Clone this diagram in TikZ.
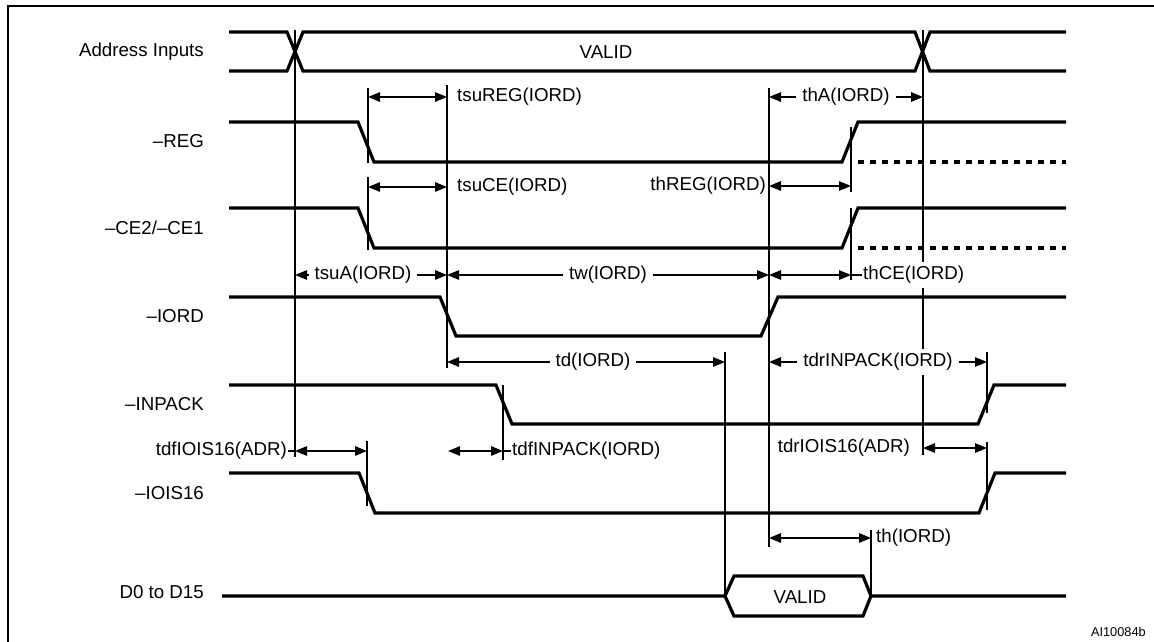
\documentclass[tikz,border=0pt]{standalone}
\usepackage{fontspec}
\setmainfont{Liberation Sans}
\usetikzlibrary{arrows.meta}
\definecolor{ink}{HTML}{000000}
\tikzset{
  sig/.style={draw=ink, line width=3.2pt, line join=miter},
  floatsig/.style={draw=ink, line width=3.2pt, dash pattern=on 6pt off 6pt},
  tick/.style={draw=ink, line width=1.3pt},
  dim/.style={draw=ink, line width=1.3pt, {Triangle[length=12pt,width=9.5pt]}-{Triangle[length=12pt,width=9.5pt]}},
  lab/.style={text=ink, font=\fontsize{18.7}{22}\selectfont, inner sep=1pt},
  labw/.style={lab, fill=white, inner xsep=6pt, inner ysep=4pt},
  signame/.style={lab, anchor=east},
}

\begin{document}
\begin{tikzpicture}[x=1pt,y=-1pt]
  \useasboundingbox (0,0) rectangle (1154,641);
  % frame
  \draw[line width=2pt] (8,660) -- (8,6) -- (1170,6);
  % signal names
  \node[signame] (nAddr) at (205,52) {Address Inputs};
  \node[signame] (nREG) at (205,141) {–REG};
  \node[signame] (nCE) at (205,228) {–CE2/–CE1};
  \node[signame] (nIORD) at (205,316) {–IORD};
  \node[signame] (nINPACK) at (205,404) {–INPACK};
  \node[signame] (nIOIS) at (205,493) {–IOIS16};
  \node[signame] (nData) at (205,592) {D0 to D15};
  % timing marks
  \draw[tick] (295,30) -- (295,457);
  \draw[tick] (368,88) -- (368,163);
  \draw[tick] (368,177) -- (368,250);
  \draw[tick] (447,85) -- (447,368);
  \draw[tick] (503,385) -- (503,460);
  \draw[tick] (367,441) -- (367,506);
  \draw[tick] (725,352) -- (725,596);
  \draw[tick] (769,88) -- (769,547);
  \draw[tick] (851,127) -- (851,192);
  \draw[tick] (851,208) -- (851,280);
  \draw[tick] (923,30) -- (923,455);
  \draw[tick] (987,352) -- (987,413);
  \draw[tick] (987,442) -- (987,510);
  \draw[tick] (871,530) -- (871,596);
  % signals
  \draw[sig] (229,32) -- (287,32) -- (303,71) -- (915,71) -- (930,32) -- (1066,32);
  \draw[sig] (229,71) -- (287,71) -- (303,32) -- (915,32) -- (930,71) -- (1066,71);
  \node[lab] (vAddr) at (606,52) {VALID};
  \draw[sig] (229,122) -- (358,122) -- (374,162) -- (842,162) -- (858,122) -- (1066,122);
  \draw[floatsig] (858,162) -- (1066,162);
  \draw[sig] (229,208) -- (358,208) -- (374,248) -- (842,248) -- (858,208) -- (1066,208);
  \draw[floatsig] (858,248) -- (1066,248);
  \draw[sig] (229,297) -- (440,297) -- (456,336) -- (761,336) -- (778,297) -- (1066,297);
  \draw[sig] (229,385) -- (496,385) -- (512,424) -- (978,424) -- (994,385) -- (1066,385);
  \draw[sig] (229,473) -- (359,473) -- (375,513) -- (979,513) -- (995,473) -- (1066,473);
  \draw[sig] (222,596) -- (725,596) -- (734,576) -- (863,576) -- (871,596) -- (1066,596);
  \draw[sig] (725,596) -- (734,616) -- (863,616) -- (871,596);
  \node[lab] (vData) at (800,597) {VALID};
  % timing parameters
  \draw[dim] (368,97) -- (447,97);
  \node[lab, anchor=west] (tsuREG) at (456,97) {tsuREG(IORD)};
  \draw[dim] (769,97) -- (923,97);
  \node[labw] (thA) at (846,97) {thA(IORD)};
  \draw[dim] (368,187) -- (447,187);
  \node[lab, anchor=west] (tsuCE) at (456,187) {tsuCE(IORD)};
  \draw[dim] (769,186) -- (851,186);
  \node[lab, anchor=east] (thREG) at (767,186) {thREG(IORD)};
  \draw[dim] (295,275) -- (447,275);
  \node[labw] (tsuA) at (363,275) {tsuA(IORD)};
  \draw[dim] (447,275) -- (769,275);
  \node[labw] (tw) at (608,275) {tw(IORD)};
  \draw[dim] (769,275) -- (851,275);
  \node[lab, anchor=west, fill=white, inner ysep=4pt] (thCE) at (862,275) {thCE(IORD)};
  \draw[tick] (851,275) -- (thCE.west);
  \draw[dim] (447,362) -- (725,362);
  \node[labw] (td) at (593,362) {td(IORD)};
  \draw[dim] (769,362) -- (987,362);
  \node[labw] (tdrINPACK) at (878,362) {tdrINPACK(IORD)};
  \draw[dim] (295,451) -- (367,451);
  \node[lab, anchor=east] (tdfIOIS) at (288,451) {tdfIOIS16(ADR)};
  \draw[tick] (tdfIOIS.east) -- (295,451);
  \draw[dim] (448,451) -- (503,451);
  \node[lab, anchor=west] (tdfINPACK) at (511,451) {tdfINPACK(IORD)};
  \draw[tick] (503,451) -- (tdfINPACK.west);
  \draw[dim] (923,448) -- (987,448);
  \node[lab, anchor=east] (tdrIOIS) at (911,448) {tdrIOIS16(ADR)};
  \draw[dim] (769,538) -- (871,538);
  \node[lab, anchor=west] (th) at (875,538) {th(IORD)};
  \node[lab, font=\fontsize{12.8}{15}\selectfont, anchor=east] (fig) at (1147,632) {AI10084b};
\end{tikzpicture}
\end{document}
